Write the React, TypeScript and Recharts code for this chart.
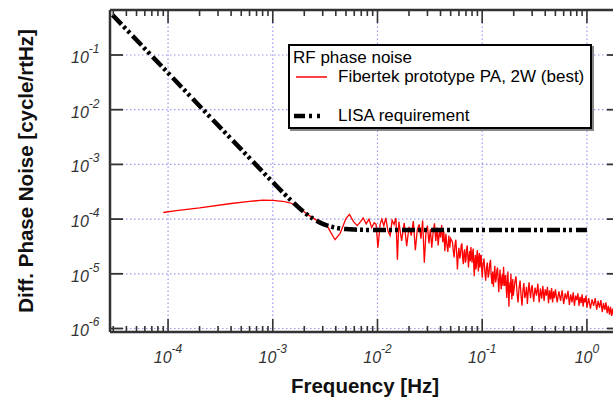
import React from 'react';
import { LineChart, Line, XAxis, YAxis, ReferenceLine, Legend } from 'recharts';

const FONT = '"Liberation Sans", Arial, Helvetica, sans-serif';
const AXIS = '#333';
const GRID = '#9a9af0';

// axes (log10 decades)
const X_DOMAIN = [2.79e-5, 2.07];
const Y_DOMAIN = [8.63e-7, 0.665];
const X_DECADES = [-5, -4, -3, -2, -1, 0];
const X_LABELED = [-4, -3, -2, -1, 0];
const Y_DECADES = [-6, -5, -4, -3, -2, -1];
const MULTIPLES = [1, 2, 3, 4, 5, 6, 7, 8, 9];

// LISA requirement [Hz, cycle/rtHz]
const lisaReq = [
  [2.95e-5, 0.54], [5e-5, 0.188], [1e-4, 0.047], [2e-4, 0.0117], [5e-4, 1.88e-3],
  [1e-3, 4.74e-4], [1.5e-3, 2.18e-4], [2e-3, 1.33e-4], [2.5e-3, 9.8e-5], [3e-3, 8.2e-5],
  [3.5e-3, 7.4e-5], [4e-3, 6.95e-5], [5e-3, 6.57e-5], [6e-3, 6.43e-5], [8e-3, 6.34e-5],
  [1e-2, 6.32e-5], [1, 6.3e-5],
];

// Fibertek prototype PA, 2W (best) - low frequency part
const fibertekLow = [
  [9.0e-5, 1.32e-4], [1.2e-4, 1.43e-4], [2.0e-4, 1.6e-4], [4.0e-4, 1.93e-4], [6.0e-4, 2.1e-4],
  [8.0e-4, 2.23e-4], [1.0e-3, 2.2e-4], [1.3e-3, 2.08e-4], [1.5e-3, 1.95e-4], [1.8e-3, 1.58e-4],
  [2.2e-3, 1.18e-4], [2.8e-3, 8.8e-5], [3.3e-3, 7.6e-5], [3.6e-3, 5.6e-5], [3.93e-3, 4.2e-5],
  [4.4e-3, 5.5e-5], [5.0e-3, 1.02e-4], [5.4e-3, 1.22e-4], [5.9e-3, 9.0e-5], [6.4e-3, 7.6e-5],
  [6.9e-3, 9.0e-5], [7.3e-3, 1.05e-4], [7.8e-3, 8.2e-5], [8.3e-3, 1.0e-4], [8.8e-3, 7.0e-5],
  [9.3e-3, 8.6e-5], [9.7e-3, 8.0e-5], [1.01e-2, 3.0e-5], [1.06e-2, 8.0e-5], [1.10e-2, 1.0e-4],
  [1.15e-2, 7.5e-5], [1.20e-2, 1.05e-4], [1.26e-2, 6.0e-5], [1.32e-2, 5.0e-5], [1.38e-2, 9.5e-5],
  [1.44e-2, 8.0e-5], [1.50e-2, 1.05e-4], [1.55e-2, 1.8e-5],
];

// 0.016 .. 0.05 Hz
const fibertekMid = [
  [0.016, 9.0e-5], [0.017, 4.0e-5], [0.018, 8.5e-5], [0.019, 3.2e-5], [0.020, 7.2e-5],
  [0.021, 5.0e-5], [0.022, 9.2e-5], [0.023, 2.7e-5], [0.024, 6.4e-5], [0.025, 8.0e-5],
  [0.026, 4.4e-5], [0.027, 9.4e-5], [0.028, 1.6e-5], [0.029, 5.5e-5], [0.030, 7.6e-5],
  [0.031, 3.6e-5], [0.032, 6.6e-5], [0.033, 3.0e-5], [0.034, 5.8e-5], [0.035, 8.4e-5],
  [0.036, 4.0e-5], [0.037, 7.0e-5], [0.038, 3.3e-5], [0.039, 6.2e-5], [0.040, 4.6e-5],
  [0.041, 7.8e-5], [0.042, 3.8e-5], [0.043, 6.0e-5], [0.044, 2.6e-5], [0.045, 5.4e-5],
  [0.046, 3.4e-5], [0.047, 2.5e-5], [0.048, 5.0e-5], [0.049, 3.0e-5], [0.050, 4.4e-5],
];

// 0.05 .. 0.2 Hz
const fibertekRoll = [
  [0.052, 3.8e-5], [0.053, 2.6e-5], [0.054, 2.0e-5], [0.055, 3.4e-5], [0.056, 4.2e-5],
  [0.057, 2.4e-5], [0.058, 1.2e-5], [0.059, 2.2e-5], [0.060, 3.0e-5], [0.061, 1.9e-5],
  [0.062, 2.2e-5], [0.063, 3.3e-5], [0.064, 3.6e-5], [0.065, 2.0e-5], [0.066, 1.5e-5],
  [0.067, 2.5e-5], [0.068, 2.8e-5], [0.069, 1.6e-5], [0.070, 1.8e-5], [0.071, 2.9e-5],
  [0.072, 3.3e-5], [0.073, 2.0e-5], [0.074, 1.3e-5], [0.075, 2.1e-5], [0.076, 2.6e-5],
  [0.077, 1.7e-5], [0.078, 3.1e-5], [0.079, 2.2e-5], [0.080, 1.6e-5], [0.081, 2.4e-5],
  [0.082, 2.9e-5], [0.083, 1.5e-5], [0.084, 9.0e-6], [0.085, 1.7e-5], [0.086, 2.2e-5],
  [0.087, 1.2e-5], [0.088, 1.4e-5], [0.089, 2.3e-5], [0.090, 2.7e-5], [0.091, 1.6e-5],
  [0.092, 1.1e-5], [0.093, 1.9e-5], [0.094, 2.4e-5], [0.095, 1.3e-5], [0.096, 1.5e-5],
  [0.097, 2.2e-5], [0.098, 2.1e-5], [0.099, 1.2e-5], [0.100, 8.5e-6],
  [0.102, 1.5e-5], [0.104, 1.9e-5], [0.106, 1.1e-5], [0.108, 7.5e-6], [0.110, 1.3e-5],
  [0.112, 1.6e-5], [0.114, 8.5e-6], [0.116, 1.0e-5], [0.118, 1.5e-5], [0.120, 1.8e-5],
  [0.122, 9.0e-6], [0.124, 6.5e-6], [0.126, 1.1e-5], [0.128, 5.8e-6], [0.130, 9.5e-6],
  [0.132, 1.4e-5], [0.134, 7.0e-6], [0.136, 8.0e-6], [0.138, 1.15e-5], [0.140, 1.3e-5],
  [0.142, 7.5e-6], [0.144, 4.6e-6], [0.146, 8.0e-6], [0.148, 1.2e-5], [0.150, 7.0e-6],
  [0.152, 5.2e-6], [0.154, 8.5e-6], [0.156, 1.0e-5], [0.158, 6.0e-6], [0.160, 1.35e-5],
  [0.162, 8.0e-6], [0.164, 6.0e-6], [0.166, 9.0e-6], [0.168, 9.5e-6], [0.170, 5.0e-6],
  [0.172, 3.6e-6], [0.174, 7.0e-6], [0.176, 1.1e-5], [0.178, 5.5e-6], [0.180, 2.5e-6],
  [0.182, 5.0e-6], [0.184, 7.0e-6], [0.186, 4.5e-6], [0.188, 1.0e-5], [0.190, 6.0e-6],
  [0.192, 3.4e-6], [0.194, 6.0e-6], [0.196, 8.0e-6], [0.198, 4.0e-6], [0.200, 4.6e-6],
];

// 0.2 .. 1.8 Hz
const fibertekHigh = [
  [0.205, 7.0e-6], [0.21, 9.0e-6], [0.215, 4.5e-6], [0.22, 3.0e-6], [0.225, 5.5e-6],
  [0.23, 7.5e-6], [0.235, 4.0e-6], [0.24, 2.6e-6], [0.245, 5.0e-6], [0.25, 6.8e-6],
  [0.255, 3.6e-6], [0.26, 4.2e-6], [0.265, 5.8e-6], [0.27, 2.8e-6], [0.275, 4.6e-6],
  [0.28, 7.0e-6], [0.285, 4.8e-6], [0.29, 3.6e-6], [0.295, 5.4e-6], [0.30, 6.2e-6],
  [0.31, 3.1e-6], [0.32, 5.6e-6], [0.33, 4.0e-6], [0.34, 6.6e-6], [0.35, 3.0e-6],
  [0.36, 5.4e-6], [0.37, 3.5e-6], [0.38, 6.0e-6], [0.39, 3.2e-6], [0.40, 5.2e-6],
  [0.41, 4.0e-6], [0.42, 5.8e-6], [0.43, 2.9e-6], [0.44, 5.0e-6], [0.45, 3.4e-6],
  [0.46, 5.5e-6], [0.47, 3.0e-6], [0.48, 4.8e-6], [0.49, 3.6e-6], [0.50, 5.2e-6],
  [0.52, 3.0e-6], [0.54, 4.8e-6], [0.56, 3.2e-6], [0.58, 5.0e-6], [0.60, 2.8e-6],
  [0.62, 4.4e-6], [0.64, 3.4e-6], [0.66, 4.9e-6], [0.68, 2.7e-6], [0.70, 4.2e-6],
  [0.72, 3.0e-6], [0.74, 4.6e-6], [0.76, 2.6e-6], [0.78, 4.0e-6], [0.80, 3.3e-6],
  [0.82, 4.4e-6], [0.84, 2.6e-6], [0.86, 3.8e-6], [0.88, 2.9e-6], [0.90, 4.2e-6],
  [0.92, 2.5e-6], [0.94, 3.6e-6], [0.96, 3.0e-6], [0.98, 4.0e-6], [1.00, 2.4e-6],
  [1.04, 3.6e-6], [1.08, 2.3e-6], [1.12, 3.4e-6], [1.16, 2.6e-6], [1.20, 3.6e-6],
  [1.24, 2.2e-6], [1.28, 3.2e-6], [1.32, 2.4e-6], [1.36, 3.3e-6], [1.40, 2.0e-6],
  [1.44, 2.9e-6], [1.48, 2.2e-6], [1.52, 3.0e-6], [1.56, 1.9e-6], [1.60, 2.6e-6],
  [1.64, 1.8e-6], [1.68, 2.5e-6], [1.72, 1.7e-6], [1.76, 2.3e-6], [1.80, 1.7e-6],
];

const toPts = (arr: number[][]) => arr.map(([f, v]) => ({ f, v }));
const lisaData = toPts(lisaReq);
const redData = toPts([...fibertekLow, ...fibertekMid, ...fibertekRoll, ...fibertekHigh]);

const xTicks = X_DECADES.flatMap(d => MULTIPLES.map(m => m * 10 ** d))
  .filter(t => t >= X_DOMAIN[0] && t <= X_DOMAIN[1]);
const yTicks = Y_DECADES.map(d => 10 ** d);

const LISA_DASH = '13 3 3 3 3 4';

const decadeOf = (v: number) => {
  const e = Math.round(Math.log10(v));
  return Math.abs(Math.log10(v) - e) < 1e-6 ? e : null;
};

const labelStyle = { fontFamily: FONT, fontSize: 16, fontStyle: 'italic' as const, fill: '#333' };

function BottomTick({ x, y, payload }: any) {
  const e = decadeOf(payload.value);
  const major = e !== null && X_LABELED.includes(e);
  return (
    <g>
      <line x1={x} y1={y} x2={x} y2={y - (major ? 13 : 6)} stroke={AXIS} strokeWidth={1.6} />
      {major && (
        <text x={x} y={y + 31} textAnchor="middle" {...labelStyle}>
          <tspan>10</tspan>
          <tspan dy={-10} fontSize={12}>{e}</tspan>
        </text>
      )}
    </g>
  );
}

function TopTick({ x, y, payload }: any) {
  const e = decadeOf(payload.value);
  const major = e !== null && X_LABELED.includes(e);
  return <line x1={x} y1={y} x2={x} y2={y + (major ? 13 : 6)} stroke={AXIS} strokeWidth={1.6} />;
}

function LeftTick({ x, y, payload }: any) {
  const e = decadeOf(payload.value);
  return (
    <g>
      <line x1={x} y1={y} x2={x + 13} y2={y} stroke={AXIS} strokeWidth={1.8} />
      <text x={71} y={y + 8} textAnchor="start" {...labelStyle}>
        <tspan>10</tspan>
        <tspan dy={-10} fontSize={12}>{e}</tspan>
      </text>
    </g>
  );
}

function RightTick({ x, y }: any) {
  return <line x1={x} y1={y} x2={x - 13} y2={y} stroke={AXIS} strokeWidth={1.8} />;
}

const YTitle = () => (
  <text transform="translate(33,171) rotate(-90)" textAnchor="middle"
    style={{ fontFamily: FONT, fontSize: 20.5, fontWeight: 'bold', fill: '#111' }}>
    Diff. Phase Noise [cycle/rtHz]
  </text>
);

const XTitle = () => (
  <text x={365} y={393} textAnchor="middle"
    style={{ fontFamily: FONT, fontSize: 20.5, fontWeight: 'bold', fill: '#111' }}>
    Frequency [Hz]
  </text>
);

function LegendBox() {
  const row = { height: 19.5, display: 'flex', alignItems: 'center', whiteSpace: 'nowrap' as const };
  return (
    <div style={{
      width: 304, height: 85, boxSizing: 'border-box', border: '2px solid #000',
      boxShadow: '2px 2px 0 #888', background: '#fff', padding: '2px 0 0 3px',
      fontFamily: FONT, fontSize: 17, color: '#000',
    }}>
      <div style={row}>RF phase noise</div>
      <div style={row}>
        <svg width={42} height={6} style={{ marginLeft: 3 }}>
          <line x1={0} y1={3} x2={31} y2={3} stroke="#ff0000" strokeWidth={1.5} />
        </svg>
        <span>Fibertek prototype PA, 2W (best)</span>
      </div>
      <div style={row} />
      <div style={row}>
        <svg width={42} height={8} style={{ marginLeft: 1 }}>
          <line x1={0} y1={4} x2={28} y2={4} stroke="#000" strokeWidth={4.5} strokeDasharray="11 4 3 5 3 20" />
        </svg>
        <span style={{ marginLeft: 2 }}>LISA requirement</span>
      </div>
    </div>
  );
}

export default function App() {
  return (
    <div style={{ position: 'absolute', left: 0, top: 0, width: 613, height: 400, overflow: 'hidden', background: '#fff' }}>
      <LineChart width={640} height={400} margin={{ top: 0, right: 19, bottom: 0, left: 0 }}>
        <XAxis dataKey="f" type="number" scale="log" domain={X_DOMAIN} allowDataOverflow
          ticks={xTicks} interval={0} tickSize={0} tickMargin={0} tickLine={false} height={68}
          axisLine={{ stroke: AXIS, strokeWidth: 2.5 }} tick={<BottomTick />} label={<XTitle />} />
        <XAxis xAxisId="top" orientation="top" dataKey="f" type="number" scale="log" domain={X_DOMAIN}
          allowDataOverflow ticks={xTicks} interval={0} tickSize={0} tickMargin={0} tickLine={false}
          height={10} axisLine={{ stroke: AXIS, strokeWidth: 2.5 }} tick={<TopTick />} />
        <YAxis type="number" scale="log" domain={Y_DOMAIN} allowDataOverflow ticks={yTicks} interval={0}
          tickSize={0} tickMargin={0} tickLine={false} width={110}
          axisLine={{ stroke: AXIS, strokeWidth: 2.5 }} tick={<LeftTick />} label={<YTitle />} />
        <YAxis yAxisId="right" orientation="right" type="number" scale="log" domain={Y_DOMAIN}
          allowDataOverflow ticks={yTicks} interval={0} tickSize={0} tickMargin={0} tickLine={false}
          width={1} axisLine={{ stroke: AXIS, strokeWidth: 2.5 }} tick={<RightTick />} />
        {X_LABELED.map(d => (
          <ReferenceLine key={'x' + d} x={10 ** d} stroke={GRID} strokeDasharray="1.5 2.5" strokeWidth={1.2} />
        ))}
        {Y_DECADES.map(d => (
          <ReferenceLine key={'y' + d} y={10 ** d} stroke={GRID} strokeDasharray="1.5 2.5" strokeWidth={1.2} />
        ))}
        <Line data={redData} dataKey="v" type="linear" stroke="#ff0000" strokeWidth={1.3}
          dot={false} isAnimationActive={false} />
        <Line data={lisaData} dataKey="v" type="monotone" stroke="#000" strokeWidth={4.5}
          strokeDasharray={LISA_DASH} dot={false} isAnimationActive={false} />
        <Legend layout="vertical" align="center" verticalAlign="middle" content={() => <LegendBox />}
          wrapperStyle={{ left: 288, top: 44, width: 304, height: 85 }} />
      </LineChart>
    </div>
  );
}
